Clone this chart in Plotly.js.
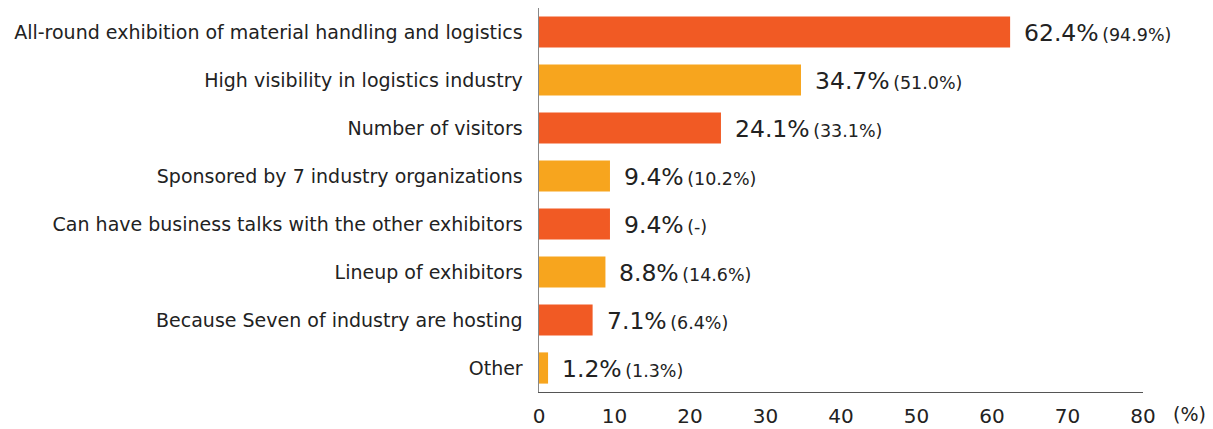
<!DOCTYPE html>
<html><head><meta charset="utf-8">
<script src="https://cdn.plot.ly/plotly-3.0.1.min.js"></script>
<style>html,body{margin:0;padding:0;background:#fff;}#c{width:1213px;height:429px;}</style>
</head><body><div id="c"></div>
<script>
const categories = [
  "All-round exhibition of material handling and logistics",
  "High visibility in logistics industry",
  "Number of visitors",
  "Sponsored by 7 industry organizations",
  "Can have business talks with the other exhibitors",
  "Lineup of exhibitors",
  "Because Seven of industry are hosting",
  "Other"
];
const values = [62.4, 34.7, 24.1, 9.4, 9.4, 8.8, 7.1, 1.2];
const previous = ["94.9%", "51.0%", "33.1%", "10.2%", "-", "14.6%", "6.4%", "1.3%"];
const colors = ["#F15A24", "#F7A51E", "#F15A24", "#F7A51E", "#F15A24", "#F7A51E", "#F15A24", "#F7A51E"];
const tickVals = [0, 10, 20, 30, 40, 50, 60, 70, 80];

const fontFam = "'DejaVu Sans', 'Noto Sans CJK JP', sans-serif";
const annotations = categories.map((c, i) => ({
  x: values[i], y: c, xref: 'x', yref: 'y', xanchor: 'left', yanchor: 'middle',
  xshift: 12, yshift: -1, showarrow: false,
  text: values[i].toFixed(1) + "%<span style='font-size:17.5px'>\u2009(" + previous[i] + ")</span>",
  font: {family: fontFam, size: 23.5, color: '#222'}
}));
annotations.push({
  x: 1, xref: 'paper', y: 0, yref: 'paper', xanchor: 'left', yanchor: 'top', yshift: -9, xshift: 28,
  showarrow: false, text: "(%)", font: {family: fontFam, size: 19, color: '#222'}
});

Plotly.newPlot('c', [{
  type: 'bar', orientation: 'h', y: categories, x: values,
  marker: {color: colors}, width: 0.65, hoverinfo: 'none'
}], {
  width: 1213, height: 429,
  margin: {l: 539, r: 70, t: 8, b: 37},
  paper_bgcolor: '#fff', plot_bgcolor: '#fff',
  font: {family: fontFam, size: 19, color: '#222'},
  xaxis: {range: [0, 80], tickvals: tickVals, showgrid: false, zeroline: false,
    showline: true, linecolor: '#555', linewidth: 1.2, ticks: '', ticklen: 0,
    ticklabelstandoff: 6, tickfont: {size: 20}, fixedrange: true},
  yaxis: {autorange: 'reversed', showgrid: false, zeroline: false, showline: true,
    linecolor: '#888', linewidth: 1.5, ticks: '', ticklabelstandoff: 11, tickfont: {size: 19}},
  annotations: annotations,
  showlegend: false
}, {displayModeBar: false, staticPlot: true});
</script></body></html>
